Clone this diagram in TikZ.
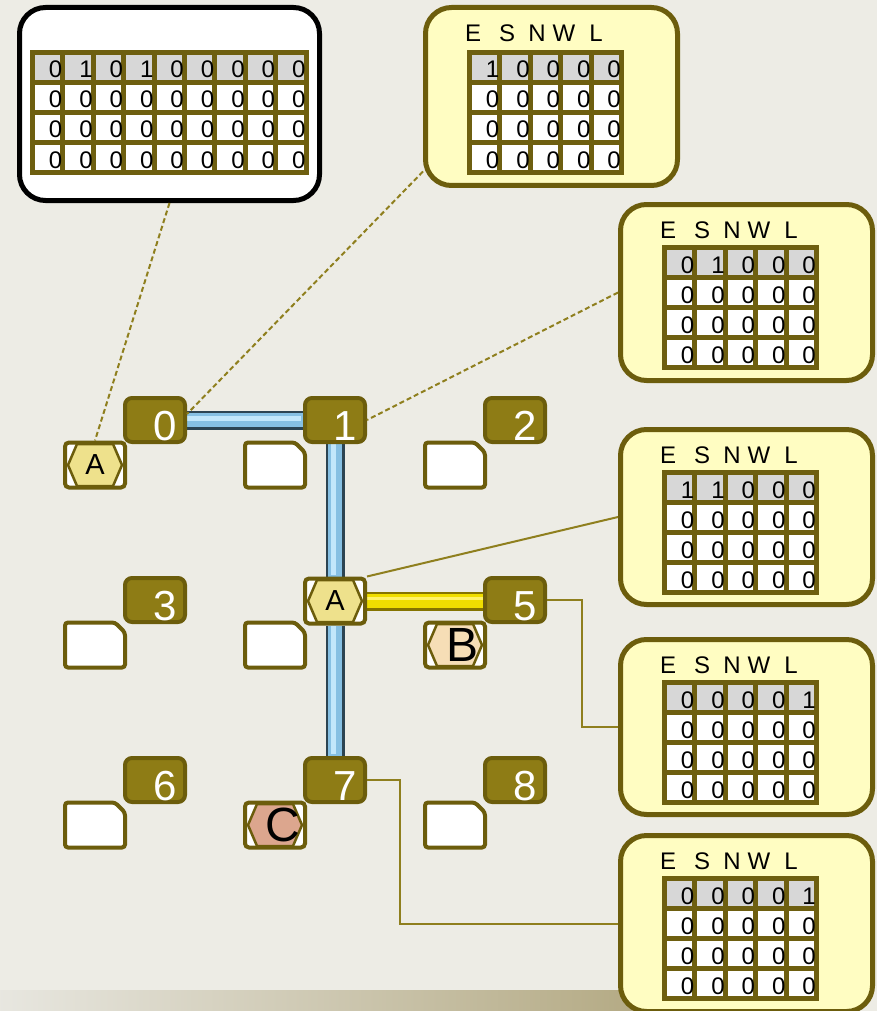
\documentclass[tikz,border=0pt]{standalone}
\usepackage{fontspec}
\setmainfont{Liberation Sans}
\usetikzlibrary{calc}
\pgfdeclarelayer{bglayer}
\pgfdeclarelayer{pipelayer}
\pgfsetlayers{bglayer,pipelayer,main}
\definecolor{bg}{HTML}{EDECE5}
\definecolor{olivedark}{HTML}{6C5D0C}
\definecolor{labfill}{HTML}{8E7C15}
\definecolor{callyel}{HTML}{FFFDC2}
\definecolor{tabline}{HTML}{6E5F10}
\definecolor{cellgrey}{HTML}{D7D7D7}
\definecolor{connol}{HTML}{8F7F1E}
\definecolor{pipedark}{HTML}{2C4452}
\definecolor{pipemid}{HTML}{86C0E3}
\definecolor{pipelight}{HTML}{C2E7FB}
\definecolor{ypipedark}{HTML}{857400}
\definecolor{ypipemid}{HTML}{F0DE00}
\definecolor{ypipelight}{HTML}{FFF36A}
\definecolor{hexA}{HTML}{EEE18C}
\definecolor{hexB}{HTML}{F6DEB6}
\definecolor{hexC}{HTML}{DCA68E}
\definecolor{stripR}{HTML}{B4AA84}
\tikzset{
  lab/.style={rectangle, rounded corners=7pt, fill=labfill, draw=olivedark, line width=4pt, minimum width=60pt, minimum height=44pt, inner sep=0pt},
  labtxt/.style={text=white, font=\fontsize{42}{42}\selectfont, inner sep=0pt},
  hbox/.style={rectangle, rounded corners=4pt, fill=white, draw=olivedark, line width=4pt, minimum width=60pt, minimum height=45pt, inner sep=0pt},
  hexline/.style={draw=olivedark, line width=2.5pt, line join=round},
  smallletter/.style={font=\fontsize{29}{29}\selectfont, inner sep=0pt},
  bigletter/.style={font=\fontsize{48}{48}\selectfont, inner sep=0pt, xshift=8pt},
  wboxst/.style={draw=olivedark, fill=white, line width=4pt, rounded corners=3pt},
  callw/.style={rectangle, rounded corners=26pt, fill=white, draw=black, line width=5pt, inner sep=0pt},
  cally/.style={rectangle, rounded corners=26pt, fill=callyel, draw=olivedark, line width=5pt, inner sep=0pt},
  digit/.style={font=\fontsize{24}{24}\selectfont, inner sep=0pt},
  head/.style={font=\fontsize{24}{24}\selectfont, inner sep=0pt},
  dashconn/.style={draw=connol, line width=2pt, dash pattern=on 5pt off 3pt},
  conn/.style={draw=connol, line width=2pt},
  bluepipe/.style={draw=pipedark, line width=19pt,
     postaction={draw=pipemid, line width=14pt},
     postaction={draw=pipelight, line width=5pt, transform canvas={shift={(-2pt,2pt)}}}},
  yellowpipe/.style={draw=ypipedark, line width=19pt,
     postaction={draw=ypipemid, line width=14pt},
     postaction={draw=ypipelight, line width=3pt, transform canvas={shift={(0pt,3pt)}}}}
}
\newcommand\mktable[4]{%
  \fill[tabline] (#2,#3) rectangle ({#2+5+\mycols*30.4},{#3+125});
  \foreach \v [count=\i from 0] in {#4} {
    \foreach \j in {0,1,2,3} {
      \pgfmathsetmacro\xa{#2+5+\i*30.4}
      \pgfmathsetmacro\xb{#2+(\i+1)*30.4}
      \pgfmathsetmacro\ya{#3+5+\j*30}
      \pgfmathsetmacro\yb{#3+(\j+1)*30}
      \ifnum\j=0 \def\cc{cellgrey}\edef\vv{\v}\else\def\cc{white}\def\vv{0}\fi
      \fill[\cc] (\xa,\ya) rectangle (\xb,\yb);
      \node[digit, anchor=base east] (#1-\i-\j) at (\xb+2,\yb-2) {\vv};
    }
  }
}
\newcommand\mkhead[3]{%
  \foreach \l/\dx in {E/6,S/40,N/70,W/97,L/129} {\node[head] (#1-h\l) at (#2+\dx,#3) {\l};}
}
\newcommand\mklab[4]{%
  \node[lab] (#1) at (#2,#3) {};
  \node[labtxt, anchor=base east] (#1t) at ($(#1.east)+(-10,20)$) {#4};
}
\newcommand\mkhex[6]{%
  \node[hbox] (#1) at (#2,#3) {};
  \filldraw[fill=#4, hexline] ($(#1.center)+(-27,0)$) -- ++(9,-21) -- ++(36,0) -- ++(9,21) -- ++(-9,21) -- ++(-36,0) -- cycle;
  \node[#6] (#1t) at (#1.center) {#5};
}
\newcommand\mkwbox[2]{%
  \draw[wboxst] (#1-30,#2-22.5) -- (#1+20,#2-22.5) -- (#1+30,#2-12.5) -- (#1+30,#2+22.5) -- (#1-30,#2+22.5) -- cycle;
}
\begin{document}
\begin{tikzpicture}[x=1pt,y=-1pt]
\useasboundingbox (0,0) rectangle (877,1011);
\clip (0,0) rectangle (877,1011);
\begin{pgfonlayer}{bglayer}
\fill[bg] (0,0) rectangle (877,1011);
\shade[left color=bg!95!gray, right color=stripR] (0,990) rectangle (640,1011);
\end{pgfonlayer}

% grid label boxes
\mklab{L0}{155}{420}{0}
\mklab{L1}{335}{420}{1}
\mklab{L2}{515}{420}{2}
\mklab{L3}{155}{600}{3}
\mklab{L5}{515}{600}{5}
\mklab{L6}{155}{780}{6}
\mklab{L7}{335}{780}{7}
\mklab{L8}{515}{780}{8}
\mkhex{hA4}{335}{601}{hexA}{A}{smallletter}

% pipes
\begin{pgfonlayer}{pipelayer}
\draw[bluepipe] (L0.east) -- (L1.west);
\draw[bluepipe] (L1.south) -- (hA4.north);
\draw[bluepipe] (hA4.south) -- (L7.north);
\draw[yellowpipe] (hA4.east) -- (hA4.east -| L5.west);
\end{pgfonlayer}

% cells under labels
\mkhex{hA1}{95}{465}{hexA}{A}{smallletter}
\mkwbox{275}{465}
\mkwbox{455}{465}
\mkwbox{95}{645}
\mkwbox{275}{645}
\mkhex{hB}{455}{645}{hexB}{B}{bigletter}
\mkwbox{95}{825}
\mkhex{hC}{275}{825}{hexC}{C}{bigletter}
\mkwbox{455}{825}

% callouts
\node[callw, minimum width=300pt, minimum height=193pt] (c1) at (169.5,104) {};
\node[cally, minimum width=252pt, minimum height=178pt] (c2) at (551.5,96.5) {};
\node[cally, minimum width=252pt, minimum height=176pt] (c3) at (746.5,292.5) {};
\node[cally, minimum width=252pt, minimum height=175pt] (c4) at (746.5,517) {};
\node[cally, minimum width=252pt, minimum height=175pt] (c5) at (746.5,727) {};
\node[cally, minimum width=252pt, minimum height=176pt] (c6) at (746.5,923.5) {};

\def\mycols{9}
\mktable{t1}{30}{50}{0,1,0,1,0,0,0,0,0}
\def\mycols{5}
\mkhead{t2}{467}{33}
\mktable{t2}{467}{50}{1,0,0,0,0}
\mkhead{t3}{662}{230}
\mktable{t3}{662}{245}{0,1,0,0,0}
\mkhead{t4}{662}{455}
\mktable{t4}{662}{470}{1,1,0,0,0}
\mkhead{t5}{662}{665}
\mktable{t5}{662}{680}{0,0,0,0,1}
\mkhead{t6}{662}{861}
\mktable{t6}{662}{876}{0,0,0,0,1}

% connectors
\draw[dashconn] (c1.south) -- (hA1.north);
\draw[dashconn] ([yshift=-75pt]c2.west) -- ([yshift=6pt]L0.east);
\draw[dashconn] (c3.west) -- (L1.east);
\draw[conn] (c4.west) -- (hA4.north east);
\draw[conn] (L5.east) -- ++(35,0) |- (c5.west);
\draw[conn] (L7.east) -- ++(33,0) |- (c6.west);
\end{tikzpicture}
\end{document}
